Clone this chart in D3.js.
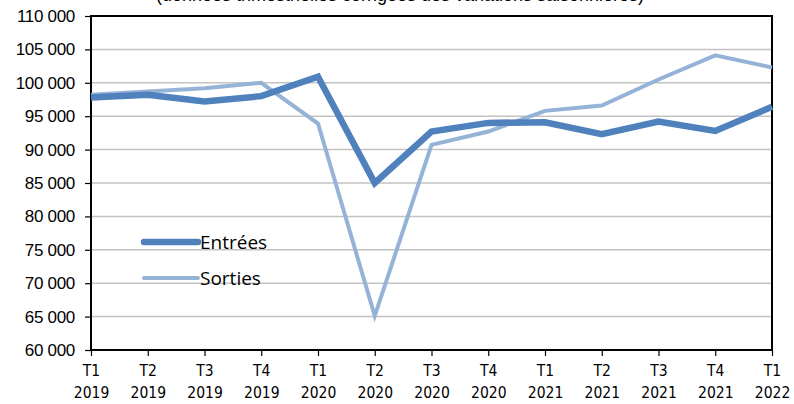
<!DOCTYPE html>
<html>
<head>
<meta charset="utf-8">
<script src="https://cdn.jsdelivr.net/npm/d3@7"></script>
<style>
body { margin: 0; background: #fff; }
svg { display: block; }
</style>
</head>
<body>
<svg id="chart" width="794" height="404"></svg>
<script>
// quarters, series values, tick labels
var quarters = ["T1 2019","T2 2019","T3 2019","T4 2019","T1 2020","T2 2020","T3 2020",
                "T4 2020","T1 2021","T2 2021","T3 2021","T4 2021","T1 2022"];
var entrees = [97800, 98200, 97200, 98000, 100900, 85000, 92700, 94000, 94100, 92300, 94200, 92800, 96400];
var sorties = [98200, 98700, 99200, 100000, 93900, 65100, 90700, 92700, 95800, 96600, 100500, 104100, 102300];
var yTicks = [60000, 65000, 70000, 75000, 80000, 85000, 90000, 95000, 100000, 105000, 110000];
var seriesNames = ["Entrées", "Sorties"];

var linechart = function() {

var svg = d3.select("#chart");
var pLeft = 91, pRight = 772, pTop = 16, pBottom = 350;

var x = d3.scalePoint().domain(quarters).range([pLeft, pRight]);
var y = d3.scaleLinear().domain([60000, 110000]).range([pBottom, pTop]);

var fmt = function(v) { return d3.format(",")(v).replace(",", " "); };

// subtitle, mostly cut off at the top in the original
svg.append("text")
  .attr("x", 400).attr("y", 1)
  .attr("text-anchor", "middle")
  .style("font-family", "Liberation Sans, Arial, sans-serif")
  .style("font-size", "18px")
  .text("(données trimestrielles corrigées des variations saisonnières)");

// gridlines
svg.append("g").selectAll("line")
  .data(yTicks.slice(1, -1))
  .enter().append("line")
  .attr("x1", pLeft).attr("x2", pRight)
  .attr("y1", d => y(d)).attr("y2", d => y(d))
  .attr("stroke", "#c3c3c3").attr("stroke-width", 1.5);

// y axis
var yAxis = svg.append("g")
  .attr("transform", "translate(" + pLeft + ",0)")
  .call(d3.axisLeft(y).tickValues(yTicks).tickFormat(fmt).tickSize(6).tickPadding(10));
yAxis.select(".domain").remove();
yAxis.selectAll("line").attr("stroke", "#000").attr("stroke-width", 1.2);
yAxis.selectAll("text")
  .style("font-family", "Liberation Sans, Arial, sans-serif")
  .style("font-size", "17px").style("letter-spacing", "-0.3px").attr("fill", "#000");

// x axis
var xAxis = svg.append("g")
  .attr("transform", "translate(0," + pBottom + ")")
  .call(d3.axisBottom(x).tickSize(6).tickFormat(""));
xAxis.select(".domain").remove();
xAxis.selectAll("line").attr("stroke", "#000").attr("stroke-width", 1.2);
xAxis.selectAll(".tick").each(function(d) {
  var parts = d.split(" ");
  var t = d3.select(this).append("text")
    .attr("text-anchor", "middle")
    .attr("fill", "#000")
    .style("font-family", "DejaVu Sans Condensed, Liberation Sans Narrow, sans-serif")
    .style("font-size", "15.5px");
  t.append("tspan").attr("x", 0).attr("y", 26).text(parts[0]);
  t.append("tspan").attr("x", 0).attr("y", 48).text(parts[1]);
});

// plot border
svg.append("rect")
  .attr("x", pLeft).attr("y", pTop)
  .attr("width", pRight - pLeft).attr("height", pBottom - pTop)
  .attr("fill", "none").attr("stroke", "#000").attr("stroke-width", 2);

var line = d3.line().x((d, i) => x(quarters[i])).y(d => y(d));

svg.append("path").datum(sorties)
  .attr("d", line).attr("fill", "none")
  .attr("stroke", "#95b3d7").attr("stroke-width", 4).attr("stroke-linejoin", "miter");

svg.append("path").datum(entrees)
  .attr("d", line).attr("fill", "none")
  .attr("stroke", "#4f81bd").attr("stroke-width", 6.5).attr("stroke-linejoin", "miter");

// legend
var legend = svg.append("g");
var legendItems = [
  { name: seriesNames[0], color: "#4f81bd", w: 6.5, yy: 242 },
  { name: seriesNames[1], color: "#95b3d7", w: 4, yy: 278 }
];
legendItems.forEach(function(d) {
  legend.append("line")
    .attr("x1", 144).attr("x2", 198).attr("y1", d.yy).attr("y2", d.yy)
    .attr("stroke", d.color).attr("stroke-width", d.w).attr("stroke-linecap", "round");
  legend.append("text")
    .attr("x", 200).attr("y", d.yy + 7)
    .style("font-family", "Open Sans, DejaVu Sans, sans-serif")
    .style("font-size", "19px").attr("fill", "#000")
    .text(d.name);
});

return;
};

linechart();
</script>
</body>
</html>
